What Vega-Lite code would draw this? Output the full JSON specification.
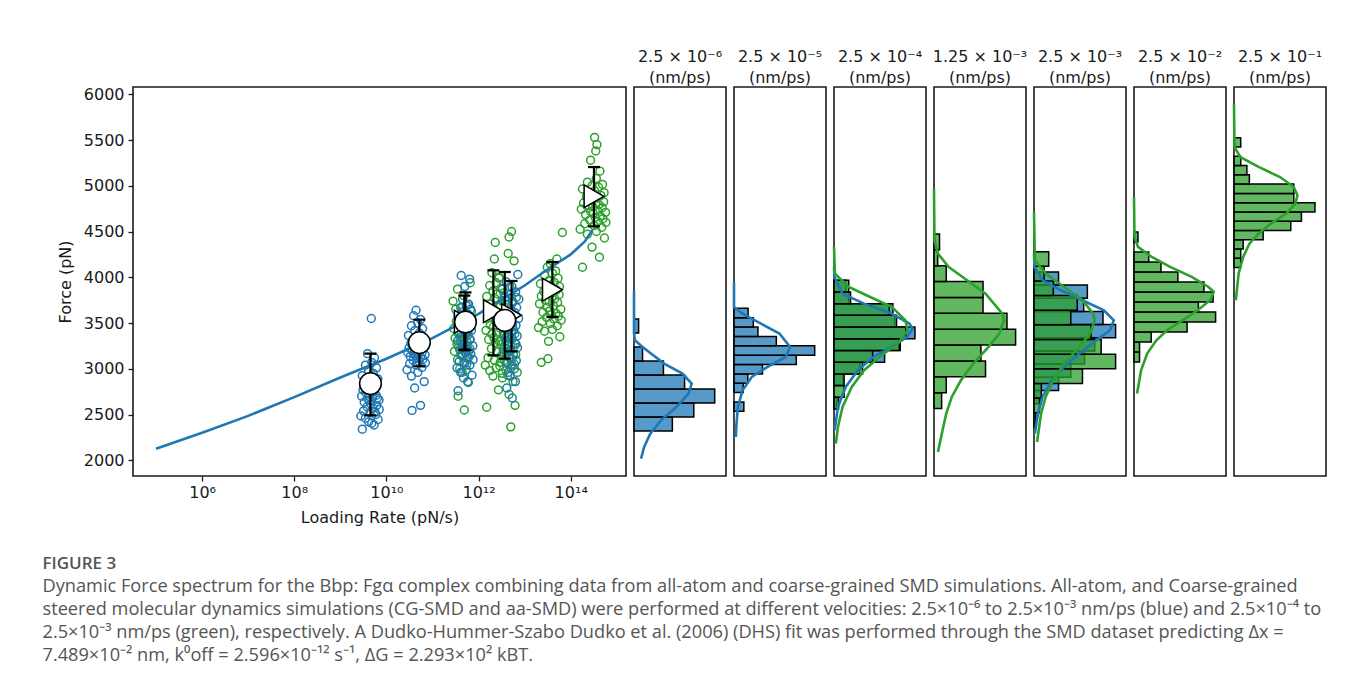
{
"$schema":"https://vega.github.io/schema/vega-lite/v6.json",
"padding":{"left":42,"top":48,"right":10,"bottom":10},
"background":"white",
"bounds":"flush",
"spacing":8,
"title":{"text":"FIGURE 3","subtitle":["Dynamic Force spectrum for the Bbp: Fgα complex combining data from all-atom and coarse-grained SMD simulations. All-atom, and Coarse-grained","steered molecular dynamics simulations (CG-SMD and aa-SMD) were performed at different velocities: 2.5×10⁻⁶ to 2.5×10⁻³ nm/ps (blue) and 2.5×10⁻⁴ to","2.5×10⁻³ nm/ps (green), respectively. A Dudko-Hummer-Szabo Dudko et al. (2006) (DHS) fit was performed through the SMD dataset predicting Δx =","7.489×10⁻² nm, k⁰off = 2.596×10⁻¹² s⁻¹, ΔG = 2.293×10² kBT."],"orient":"bottom","anchor":"start","frame":"bounds","offset":30,"dx":-14,"baseline":"top","font":"Open Sans","fontSize":17,"fontWeight":600,"color":"#555555","subtitleFont":"Open Sans","subtitleFontSize":18.2,"subtitleColor":"#555555","subtitleLineHeight":23,"subtitlePadding":5},
"datasets":{
"pts":[
{"s":"AA","r":4.9e11,"f":2550},{"s":"AA","r":3.6e11,"f":2700},{"s":"AA","r":5.8e11,"f":2860},{"s":"AA","r":4.4e11,"f":2960},{"s":"AA","r":3.9e11,"f":3000},{"s":"AA","r":5.5e11,"f":3040},{"s":"AA","r":4.8e11,"f":3080},{"s":"AA","r":3.5e11,"f":3100},{"s":"AA","r":6.1e11,"f":3125},{"s":"AA","r":4.1e11,"f":3150},{"s":"AA","r":5.2e11,"f":3170},{"s":"AA","r":3.0e11,"f":3190},{"s":"AA","r":4.5e11,"f":3205},{"s":"AA","r":6.5e11,"f":3220},{"s":"AA","r":3.7e11,"f":3240},{"s":"AA","r":5.7e11,"f":3255},{"s":"AA","r":3.4e11,"f":3270},{"s":"AA","r":4.9e11,"f":3290},{"s":"AA","r":4.0e11,"f":3305},{"s":"AA","r":6.4e11,"f":3320},{"s":"AA","r":3.1e11,"f":3335},{"s":"AA","r":4.7e11,"f":3350},{"s":"AA","r":5.3e11,"f":3365},{"s":"AA","r":3.6e11,"f":3385},{"s":"AA","r":4.2e11,"f":3400},{"s":"AA","r":6.0e11,"f":3420},{"s":"AA","r":2.9e11,"f":3440},{"s":"AA","r":5.0e11,"f":3452},{"s":"AA","r":3.9e11,"f":3465},{"s":"AA","r":6.9e11,"f":3480},{"s":"AA","r":4.3e11,"f":3500},{"s":"AA","r":3.3e11,"f":3520},{"s":"AA","r":5.6e11,"f":3540},{"s":"AA","r":4.6e11,"f":3560},{"s":"AA","r":6.2e11,"f":3578},{"s":"AA","r":3.8e11,"f":3590},{"s":"AA","r":5.1e11,"f":3610},{"s":"AA","r":7.0e11,"f":3630},{"s":"AA","r":3.2e11,"f":3650},{"s":"AA","r":4.4e11,"f":3670},{"s":"AA","r":5.9e11,"f":3700},{"s":"AA","r":2.8e11,"f":3740},{"s":"AA","r":4.8e11,"f":3800},{"s":"AA","r":3.5e11,"f":3870},{"s":"AA","r":6.6e11,"f":3940},
{"s":"AA","r":1.5e12,"f":2580},{"s":"AA","r":2.7e12,"f":2770},{"s":"AA","r":2.05e12,"f":2920},{"s":"AA","r":3.3e12,"f":2950},{"s":"AA","r":1.75e12,"f":2980},{"s":"AA","r":2.4e12,"f":3010},{"s":"AA","r":1.4e12,"f":3040},{"s":"AA","r":2.95e12,"f":3070},{"s":"AA","r":2.2e12,"f":3095},{"s":"AA","r":1.6e12,"f":3120},{"s":"AA","r":3.5e12,"f":3150},{"s":"AA","r":2.55e12,"f":3185},{"s":"AA","r":1.9e12,"f":3220},{"s":"AA","r":3.1e12,"f":3265},{"s":"AA","r":2.3e12,"f":3285},{"s":"AA","r":2.8e12,"f":3300},{"s":"AA","r":1.65e12,"f":3320},{"s":"AA","r":2.15e12,"f":3340},{"s":"AA","r":3.45e12,"f":3360},{"s":"AA","r":1.95e12,"f":3380},{"s":"AA","r":2.5e12,"f":3400},{"s":"AA","r":1.45e12,"f":3420},{"s":"AA","r":3.0e12,"f":3440},{"s":"AA","r":2.1e12,"f":3460},{"s":"AA","r":1.8e12,"f":3480},{"s":"AA","r":2.65e12,"f":3500},{"s":"AA","r":2.35e12,"f":3525},{"s":"AA","r":1.55e12,"f":3550},{"s":"AA","r":3.2e12,"f":3575},{"s":"AA","r":2.0e12,"f":3595},{"s":"AA","r":2.45e12,"f":3620},{"s":"AA","r":1.7e12,"f":3650},{"s":"AA","r":2.85e12,"f":3680},{"s":"AA","r":1.85e12,"f":3710},{"s":"AA","r":3.25e12,"f":3740},{"s":"AA","r":2.25e12,"f":3770},{"s":"AA","r":1.5e12,"f":3790},{"s":"AA","r":2.6e12,"f":3820},{"s":"AA","r":2.05e12,"f":3850},{"s":"AA","r":3.05e12,"f":3880},{"s":"AA","r":1.75e12,"f":3910},{"s":"AA","r":2.4e12,"f":3940},{"s":"AA","r":2.75e12,"f":3990},{"s":"AA","r":1.95e12,"f":4050},{"s":"AA","r":2.2e12,"f":4200},{"s":"AA","r":2.3e12,"f":4380},{"s":"AA","r":4.6e12,"f":4440},{"s":"AA","r":5.2e12,"f":4500},
{"s":"AA","r":5.0e12,"f":2365},{"s":"AA","r":6.2e12,"f":2600},{"s":"AA","r":4.6e12,"f":2720},{"s":"AA","r":5.6e12,"f":2860},{"s":"AA","r":3.3e12,"f":2900},{"s":"AA","r":4.3e12,"f":2930},{"s":"AA","r":6.9e12,"f":2960},{"s":"AA","r":3.9e12,"f":2990},{"s":"AA","r":5.0e12,"f":3010},{"s":"AA","r":2.9e12,"f":3030},{"s":"AA","r":6.0e12,"f":3050},{"s":"AA","r":4.2e12,"f":3070},{"s":"AA","r":3.6e12,"f":3090},{"s":"AA","r":5.3e12,"f":3110},{"s":"AA","r":4.7e12,"f":3125},{"s":"AA","r":3.1e12,"f":3140},{"s":"AA","r":6.4e12,"f":3155},{"s":"AA","r":4.0e12,"f":3170},{"s":"AA","r":4.9e12,"f":3190},{"s":"AA","r":3.4e12,"f":3210},{"s":"AA","r":5.7e12,"f":3230},{"s":"AA","r":3.7e12,"f":3250},{"s":"AA","r":6.5e12,"f":3270},{"s":"AA","r":4.5e12,"f":3290},{"s":"AA","r":3.0e12,"f":3310},{"s":"AA","r":5.2e12,"f":3330},{"s":"AA","r":4.1e12,"f":3355},{"s":"AA","r":6.1e12,"f":3380},{"s":"AA","r":3.5e12,"f":3410},{"s":"AA","r":4.8e12,"f":3440},{"s":"AA","r":5.5e12,"f":3470},{"s":"AA","r":3.9e12,"f":3500},{"s":"AA","r":4.4e12,"f":3540},{"s":"AA","r":5.8e12,"f":3580},{"s":"AA","r":3.6e12,"f":3620},{"s":"AA","r":4.9e12,"f":3660},{"s":"AA","r":3.0e12,"f":3690},{"s":"AA","r":5.4e12,"f":3720},{"s":"AA","r":4.1e12,"f":3750},{"s":"AA","r":6.6e12,"f":3780},{"s":"AA","r":3.5e12,"f":3830},{"s":"AA","r":4.8e12,"f":3900},{"s":"AA","r":2.8e12,"f":4000},{"s":"AA","r":5.9e12,"f":4180},{"s":"AA","r":4.4e12,"f":4260},
{"s":"AA","r":2.3e13,"f":3070},{"s":"AA","r":3.2e13,"f":3110},{"s":"AA","r":3.3e13,"f":3300},{"s":"AA","r":5.8e13,"f":3350},{"s":"AA","r":2.7e13,"f":3410},{"s":"AA","r":4.0e13,"f":3430},{"s":"AA","r":2.0e13,"f":3450},{"s":"AA","r":5.1e13,"f":3470},{"s":"AA","r":3.6e13,"f":3495},{"s":"AA","r":2.4e13,"f":3515},{"s":"AA","r":6.2e13,"f":3530},{"s":"AA","r":4.3e13,"f":3545},{"s":"AA","r":3.0e13,"f":3560},{"s":"AA","r":5.4e13,"f":3575},{"s":"AA","r":3.8e13,"f":3590},{"s":"AA","r":4.8e13,"f":3605},{"s":"AA","r":2.5e13,"f":3618},{"s":"AA","r":3.5e13,"f":3630},{"s":"AA","r":6.1e13,"f":3650},{"s":"AA","r":3.1e13,"f":3670},{"s":"AA","r":4.2e13,"f":3690},{"s":"AA","r":2.1e13,"f":3710},{"s":"AA","r":5.2e13,"f":3725},{"s":"AA","r":3.4e13,"f":3735},{"s":"AA","r":2.8e13,"f":3750},{"s":"AA","r":4.5e13,"f":3765},{"s":"AA","r":3.9e13,"f":3780},{"s":"AA","r":2.3e13,"f":3795},{"s":"AA","r":5.6e13,"f":3810},{"s":"AA","r":3.2e13,"f":3825},{"s":"AA","r":4.1e13,"f":3835},{"s":"AA","r":2.6e13,"f":3845},{"s":"AA","r":4.9e13,"f":3860},{"s":"AA","r":2.9e13,"f":3880},{"s":"AA","r":5.7e13,"f":3900},{"s":"AA","r":3.7e13,"f":3915},{"s":"AA","r":2.2e13,"f":3930},{"s":"AA","r":4.4e13,"f":3945},{"s":"AA","r":3.3e13,"f":3960},{"s":"AA","r":5.3e13,"f":3990},{"s":"AA","r":2.7e13,"f":4020},{"s":"AA","r":4.0e13,"f":4045},{"s":"AA","r":4.7e13,"f":4070},{"s":"AA","r":3.1e13,"f":4110},{"s":"AA","r":3.6e13,"f":4150},{"s":"AA","r":5.0e13,"f":4200},{"s":"AA","r":6.6e13,"f":4490},
{"s":"AA","r":1.8e14,"f":4110},{"s":"AA","r":4.2e14,"f":4220},{"s":"AA","r":2.9e14,"f":4330},{"s":"AA","r":5.4e14,"f":4430},{"s":"AA","r":2.3e14,"f":4470},{"s":"AA","r":3.6e14,"f":4500},{"s":"AA","r":1.6e14,"f":4525},{"s":"AA","r":4.7e14,"f":4545},{"s":"AA","r":3.2e14,"f":4565},{"s":"AA","r":2.0e14,"f":4585},{"s":"AA","r":5.8e14,"f":4600},{"s":"AA","r":3.9e14,"f":4610},{"s":"AA","r":2.6e14,"f":4625},{"s":"AA","r":5.0e14,"f":4640},{"s":"AA","r":3.4e14,"f":4655},{"s":"AA","r":4.4e14,"f":4670},{"s":"AA","r":2.1e14,"f":4685},{"s":"AA","r":3.1e14,"f":4700},{"s":"AA","r":5.7e14,"f":4710},{"s":"AA","r":2.7e14,"f":4720},{"s":"AA","r":3.8e14,"f":4730},{"s":"AA","r":1.7e14,"f":4745},{"s":"AA","r":4.8e14,"f":4760},{"s":"AA","r":3.0e14,"f":4770},{"s":"AA","r":2.4e14,"f":4785},{"s":"AA","r":4.1e14,"f":4795},{"s":"AA","r":3.5e14,"f":4805},{"s":"AA","r":1.9e14,"f":4812},{"s":"AA","r":5.2e14,"f":4825},{"s":"AA","r":2.8e14,"f":4845},{"s":"AA","r":3.7e14,"f":4865},{"s":"AA","r":2.2e14,"f":4880},{"s":"AA","r":4.5e14,"f":4895},{"s":"AA","r":2.5e14,"f":4910},{"s":"AA","r":5.3e14,"f":4925},{"s":"AA","r":3.3e14,"f":4945},{"s":"AA","r":1.8e14,"f":4965},{"s":"AA","r":4.0e14,"f":4985},{"s":"AA","r":2.9e14,"f":5000},{"s":"AA","r":4.9e14,"f":5015},{"s":"AA","r":2.3e14,"f":5040},{"s":"AA","r":3.6e14,"f":5080},{"s":"AA","r":4.3e14,"f":5160},{"s":"AA","r":2.7e14,"f":5280},{"s":"AA","r":3.5e14,"f":5380},{"s":"AA","r":3.7e14,"f":5450},{"s":"AA","r":3.3e14,"f":5530},
{"s":"CG","r":3.0e9,"f":2340},{"s":"CG","r":5.4e9,"f":2385},{"s":"CG","r":4.1e9,"f":2420},{"s":"CG","r":6.6e9,"f":2445},{"s":"CG","r":3.5e9,"f":2460},{"s":"CG","r":4.8e9,"f":2405},{"s":"CG","r":2.8e9,"f":2485},{"s":"CG","r":5.9e9,"f":2500},{"s":"CG","r":4.4e9,"f":2520},{"s":"CG","r":3.2e9,"f":2540},{"s":"CG","r":7.0e9,"f":2555},{"s":"CG","r":5.1e9,"f":2570},{"s":"CG","r":3.8e9,"f":2585},{"s":"CG","r":6.2e9,"f":2600},{"s":"CG","r":4.6e9,"f":2615},{"s":"CG","r":5.6e9,"f":2530},{"s":"CG","r":3.3e9,"f":2635},{"s":"CG","r":4.3e9,"f":2650},{"s":"CG","r":6.9e9,"f":2660},{"s":"CG","r":3.9e9,"f":2675},{"s":"CG","r":5.0e9,"f":2690},{"s":"CG","r":2.9e9,"f":2700},{"s":"CG","r":6.0e9,"f":2710},{"s":"CG","r":4.2e9,"f":2725},{"s":"CG","r":3.6e9,"f":2735},{"s":"CG","r":5.3e9,"f":2750},{"s":"CG","r":4.7e9,"f":2760},{"s":"CG","r":3.1e9,"f":2770},{"s":"CG","r":6.4e9,"f":2680},{"s":"CG","r":4.0e9,"f":2790},{"s":"CG","r":4.9e9,"f":2810},{"s":"CG","r":3.4e9,"f":2830},{"s":"CG","r":5.7e9,"f":2850},{"s":"CG","r":3.7e9,"f":2870},{"s":"CG","r":6.5e9,"f":2890},{"s":"CG","r":4.5e9,"f":2910},{"s":"CG","r":3.0e9,"f":2925},{"s":"CG","r":5.2e9,"f":2950},{"s":"CG","r":4.1e9,"f":2980},{"s":"CG","r":6.1e9,"f":3010},{"s":"CG","r":3.5e9,"f":3040},{"s":"CG","r":4.8e9,"f":3070},{"s":"CG","r":5.5e9,"f":3120},{"s":"CG","r":3.9e9,"f":3165},{"s":"CG","r":4.7e9,"f":3550},
{"s":"CG","r":3.6e10,"f":2545},{"s":"CG","r":5.5e10,"f":2600},{"s":"CG","r":4.1e10,"f":2790},{"s":"CG","r":6.6e10,"f":2860},{"s":"CG","r":3.5e10,"f":2920},{"s":"CG","r":4.8e10,"f":2960},{"s":"CG","r":2.8e10,"f":2990},{"s":"CG","r":5.9e10,"f":3015},{"s":"CG","r":4.4e10,"f":3040},{"s":"CG","r":3.2e10,"f":3055},{"s":"CG","r":7.0e10,"f":3065},{"s":"CG","r":5.1e10,"f":3080},{"s":"CG","r":3.8e10,"f":3095},{"s":"CG","r":6.2e10,"f":3105},{"s":"CG","r":4.6e10,"f":3115},{"s":"CG","r":5.6e10,"f":3125},{"s":"CG","r":3.3e10,"f":3135},{"s":"CG","r":4.3e10,"f":3145},{"s":"CG","r":6.9e10,"f":3152},{"s":"CG","r":3.9e10,"f":3160},{"s":"CG","r":5.0e10,"f":3170},{"s":"CG","r":2.9e10,"f":3178},{"s":"CG","r":6.0e10,"f":3185},{"s":"CG","r":4.2e10,"f":3195},{"s":"CG","r":3.6e10,"f":3205},{"s":"CG","r":5.3e10,"f":3212},{"s":"CG","r":4.7e10,"f":3222},{"s":"CG","r":3.1e10,"f":3230},{"s":"CG","r":6.4e10,"f":3240},{"s":"CG","r":4.0e10,"f":3248},{"s":"CG","r":4.9e10,"f":3260},{"s":"CG","r":3.4e10,"f":3280},{"s":"CG","r":5.7e10,"f":3300},{"s":"CG","r":3.7e10,"f":3315},{"s":"CG","r":6.5e10,"f":3330},{"s":"CG","r":4.5e10,"f":3345},{"s":"CG","r":3.0e10,"f":3365},{"s":"CG","r":5.2e10,"f":3390},{"s":"CG","r":4.1e10,"f":3415},{"s":"CG","r":6.1e10,"f":3440},{"s":"CG","r":3.5e10,"f":3470},{"s":"CG","r":4.8e10,"f":3500},{"s":"CG","r":5.5e10,"f":3540},{"s":"CG","r":3.9e10,"f":3580},{"s":"CG","r":4.4e10,"f":3640},
{"s":"CG","r":3.6e11,"f":2760},{"s":"CG","r":6.0e11,"f":2850},{"s":"CG","r":4.7e11,"f":2900},{"s":"CG","r":7.2e11,"f":2930},{"s":"CG","r":4.1e11,"f":2960},{"s":"CG","r":5.4e11,"f":2990},{"s":"CG","r":3.4e11,"f":3010},{"s":"CG","r":6.5e11,"f":3040},{"s":"CG","r":5.0e11,"f":3060},{"s":"CG","r":3.8e11,"f":3080},{"s":"CG","r":7.6e11,"f":3100},{"s":"CG","r":5.7e11,"f":3120},{"s":"CG","r":4.4e11,"f":3140},{"s":"CG","r":6.8e11,"f":3160},{"s":"CG","r":5.2e11,"f":3180},{"s":"CG","r":6.2e11,"f":3195},{"s":"CG","r":3.9e11,"f":3210},{"s":"CG","r":4.9e11,"f":3230},{"s":"CG","r":7.5e11,"f":3250},{"s":"CG","r":4.5e11,"f":3270},{"s":"CG","r":5.6e11,"f":3290},{"s":"CG","r":3.5e11,"f":3305},{"s":"CG","r":6.6e11,"f":3320},{"s":"CG","r":4.8e11,"f":3335},{"s":"CG","r":4.2e11,"f":3350},{"s":"CG","r":5.9e11,"f":3370},{"s":"CG","r":5.3e11,"f":3385},{"s":"CG","r":3.7e11,"f":3400},{"s":"CG","r":7.0e11,"f":3420},{"s":"CG","r":4.6e11,"f":3435},{"s":"CG","r":5.5e11,"f":3450},{"s":"CG","r":4.0e11,"f":3470},{"s":"CG","r":6.3e11,"f":3495},{"s":"CG","r":4.3e11,"f":3520},{"s":"CG","r":7.1e11,"f":3540},{"s":"CG","r":5.1e11,"f":3560},{"s":"CG","r":3.6e11,"f":3580},{"s":"CG","r":5.8e11,"f":3600},{"s":"CG","r":4.7e11,"f":3625},{"s":"CG","r":6.7e11,"f":3650},{"s":"CG","r":4.1e11,"f":3670},{"s":"CG","r":5.4e11,"f":3690},{"s":"CG","r":6.1e11,"f":3705},{"s":"CG","r":4.5e11,"f":3760},{"s":"CG","r":5.0e11,"f":3900},{"s":"CG","r":6.4e11,"f":3980},{"s":"CG","r":4.2e11,"f":4020},
{"s":"CG","r":5.4e12,"f":2680},{"s":"CG","r":4.1e12,"f":2790},{"s":"CG","r":6.3e12,"f":2860},{"s":"CG","r":4.9e12,"f":2920},{"s":"CG","r":4.4e12,"f":2960},{"s":"CG","r":6.0e12,"f":3000},{"s":"CG","r":5.3e12,"f":3040},{"s":"CG","r":4.0e12,"f":3060},{"s":"CG","r":6.6e12,"f":3090},{"s":"CG","r":4.6e12,"f":3120},{"s":"CG","r":5.7e12,"f":3150},{"s":"CG","r":3.5e12,"f":3180},{"s":"CG","r":5.0e12,"f":3205},{"s":"CG","r":7.0e12,"f":3230},{"s":"CG","r":4.2e12,"f":3255},{"s":"CG","r":6.2e12,"f":3280},{"s":"CG","r":3.9e12,"f":3305},{"s":"CG","r":5.4e12,"f":3330},{"s":"CG","r":4.5e12,"f":3345},{"s":"CG","r":6.9e12,"f":3360},{"s":"CG","r":3.6e12,"f":3380},{"s":"CG","r":5.2e12,"f":3400},{"s":"CG","r":5.8e12,"f":3420},{"s":"CG","r":4.1e12,"f":3440},{"s":"CG","r":4.7e12,"f":3460},{"s":"CG","r":6.5e12,"f":3475},{"s":"CG","r":3.4e12,"f":3490},{"s":"CG","r":5.5e12,"f":3510},{"s":"CG","r":4.4e12,"f":3530},{"s":"CG","r":7.4e12,"f":3550},{"s":"CG","r":4.8e12,"f":3570},{"s":"CG","r":3.8e12,"f":3595},{"s":"CG","r":6.1e12,"f":3615},{"s":"CG","r":5.1e12,"f":3640},{"s":"CG","r":6.7e12,"f":3670},{"s":"CG","r":4.3e12,"f":3700},{"s":"CG","r":5.6e12,"f":3730},{"s":"CG","r":7.5e12,"f":3760},{"s":"CG","r":3.7e12,"f":3780},{"s":"CG","r":4.9e12,"f":3810},{"s":"CG","r":6.4e12,"f":3840},{"s":"CG","r":3.3e12,"f":3870},{"s":"CG","r":5.3e12,"f":3900},{"s":"CG","r":4.0e12,"f":3950},{"s":"CG","r":7.1e12,"f":4030}
],
"fit":[{"r":1e5,"f":2125},{"r":1e6,"f":2300},{"r":1e7,"f":2485},{"r":1e8,"f":2690},{"r":1e9,"f":2905},{"r":1e10,"f":3110},{"r":1e11,"f":3335},{"r":1e12,"f":3600},{"r":1e13,"f":3910},{"r":3e13,"f":4080},{"r":1e14,"f":4250},{"r":2e14,"f":4390},{"r":2.95e14,"f":4515}],
"mn":[
{"s":"AA","r":4.9e11,"f":3515,"lo":3210,"hi":3800},
{"s":"AA","r":2.1e12,"f":3630,"lo":3147,"hi":4076},
{"s":"AA","r":5.2e12,"f":3585,"lo":3190,"hi":3960},
{"s":"AA","r":4.0e13,"f":3865,"lo":3566,"hi":4167},
{"s":"AA","r":3.2e14,"f":4885,"lo":4557,"hi":5205},
{"s":"CG","r":4.5e9,"f":2838,"lo":2491,"hi":3166},
{"s":"CG","r":5.2e10,"f":3286,"lo":3027,"hi":3537},
{"s":"CG","r":5.2e11,"f":3511,"lo":3202,"hi":3835},
{"s":"CG","r":3.7e12,"f":3530,"lo":3111,"hi":4058}
],
"hist":[
{"p":1,"s":"CG","lo":2320,"hi":2473,"n":41.7},{"p":1,"s":"CG","lo":2473,"hi":2626,"n":65},{"p":1,"s":"CG","lo":2626,"hi":2779,"n":87.7},{"p":1,"s":"CG","lo":2779,"hi":2932,"n":55},{"p":1,"s":"CG","lo":2932,"hi":3085,"n":32},{"p":1,"s":"CG","lo":3085,"hi":3238,"n":9.3},{"p":1,"s":"CG","lo":3391,"hi":3544,"n":5},
{"p":2,"s":"CG","lo":2535,"hi":2637,"n":10.7},{"p":2,"s":"CG","lo":2740,"hi":2842,"n":10},{"p":2,"s":"CG","lo":2842,"hi":2944,"n":15},{"p":2,"s":"CG","lo":2944,"hi":3047,"n":31},{"p":2,"s":"CG","lo":3047,"hi":3149,"n":67.7},{"p":2,"s":"CG","lo":3149,"hi":3251,"n":87.7},{"p":2,"s":"CG","lo":3251,"hi":3354,"n":46},{"p":2,"s":"CG","lo":3354,"hi":3456,"n":26},{"p":2,"s":"CG","lo":3456,"hi":3558,"n":21},{"p":2,"s":"CG","lo":3558,"hi":3661,"n":15.3},
{"p":3,"s":"CG","lo":2560,"hi":2688,"n":3},{"p":3,"s":"CG","lo":2816,"hi":2944,"n":10},{"p":3,"s":"CG","lo":2944,"hi":3072,"n":28},{"p":3,"s":"CG","lo":3072,"hi":3200,"n":55},{"p":3,"s":"CG","lo":3200,"hi":3328,"n":72},{"p":3,"s":"CG","lo":3328,"hi":3456,"n":88},{"p":3,"s":"CG","lo":3456,"hi":3584,"n":66},{"p":3,"s":"CG","lo":3584,"hi":3712,"n":64},{"p":3,"s":"CG","lo":3712,"hi":3840,"n":16},{"p":3,"s":"CG","lo":3840,"hi":3968,"n":13},
{"p":3,"s":"AA","lo":2560,"hi":2688,"n":5},{"p":3,"s":"AA","lo":2688,"hi":2816,"n":11},{"p":3,"s":"AA","lo":2816,"hi":2944,"n":11},{"p":3,"s":"AA","lo":2944,"hi":3072,"n":31},{"p":3,"s":"AA","lo":3072,"hi":3200,"n":42},{"p":3,"s":"AA","lo":3200,"hi":3328,"n":71},{"p":3,"s":"AA","lo":3328,"hi":3456,"n":78},{"p":3,"s":"AA","lo":3456,"hi":3584,"n":68},{"p":3,"s":"AA","lo":3584,"hi":3712,"n":60},{"p":3,"s":"AA","lo":3712,"hi":3840,"n":18},{"p":3,"s":"AA","lo":3840,"hi":3968,"n":16},
{"p":4,"s":"AA","lo":2565,"hi":2738,"n":8.3},{"p":4,"s":"AA","lo":2738,"hi":2912,"n":13.3},{"p":4,"s":"AA","lo":2912,"hi":3085,"n":56},{"p":4,"s":"AA","lo":3085,"hi":3259,"n":51},{"p":4,"s":"AA","lo":3259,"hi":3432,"n":88.7},{"p":4,"s":"AA","lo":3432,"hi":3606,"n":79.3},{"p":4,"s":"AA","lo":3606,"hi":3779,"n":53.3},{"p":4,"s":"AA","lo":3779,"hi":3953,"n":53.3},{"p":4,"s":"AA","lo":3953,"hi":4126,"n":13.3},{"p":4,"s":"AA","lo":4126,"hi":4300,"n":4},{"p":4,"s":"AA","lo":4300,"hi":4473,"n":6},
{"p":5,"s":"CG","lo":2619,"hi":2763,"n":8},{"p":5,"s":"CG","lo":2763,"hi":2907,"n":26.7},{"p":5,"s":"CG","lo":2907,"hi":3051,"n":40},{"p":5,"s":"CG","lo":3051,"hi":3195,"n":55},{"p":5,"s":"CG","lo":3195,"hi":3339,"n":66},{"p":5,"s":"CG","lo":3339,"hi":3483,"n":88.7},{"p":5,"s":"CG","lo":3483,"hi":3627,"n":75},{"p":5,"s":"CG","lo":3627,"hi":3771,"n":54},{"p":5,"s":"CG","lo":3771,"hi":3915,"n":58},{"p":5,"s":"CG","lo":3915,"hi":4059,"n":26.7},
{"p":5,"s":"AA","lo":2360,"hi":2520,"n":2},{"p":5,"s":"AA","lo":2520,"hi":2680,"n":6},{"p":5,"s":"AA","lo":2680,"hi":2840,"n":8},{"p":5,"s":"AA","lo":2840,"hi":3000,"n":52.7},{"p":5,"s":"AA","lo":3000,"hi":3160,"n":88.7},{"p":5,"s":"AA","lo":3160,"hi":3320,"n":73},{"p":5,"s":"AA","lo":3320,"hi":3480,"n":62},{"p":5,"s":"AA","lo":3480,"hi":3640,"n":40},{"p":5,"s":"AA","lo":3640,"hi":3800,"n":47},{"p":5,"s":"AA","lo":3800,"hi":3960,"n":21},{"p":5,"s":"AA","lo":3960,"hi":4120,"n":11},{"p":5,"s":"AA","lo":4120,"hi":4280,"n":16},
{"p":6,"s":"AA","lo":3075,"hi":3184,"n":6},{"p":6,"s":"AA","lo":3184,"hi":3294,"n":6},{"p":6,"s":"AA","lo":3294,"hi":3403,"n":18.7},{"p":6,"s":"AA","lo":3403,"hi":3512,"n":57.7},{"p":6,"s":"AA","lo":3512,"hi":3621,"n":88.7},{"p":6,"s":"AA","lo":3621,"hi":3730,"n":70},{"p":6,"s":"AA","lo":3730,"hi":3840,"n":86},{"p":6,"s":"AA","lo":3840,"hi":3949,"n":76},{"p":6,"s":"AA","lo":3949,"hi":4058,"n":47.7},{"p":6,"s":"AA","lo":4058,"hi":4167,"n":29.3},{"p":6,"s":"AA","lo":4167,"hi":4276,"n":16},{"p":6,"s":"AA","lo":4386,"hi":4495,"n":4.3},
{"p":7,"s":"AA","lo":4106,"hi":4207,"n":7.3},{"p":7,"s":"AA","lo":4207,"hi":4309,"n":7.3},{"p":7,"s":"AA","lo":4309,"hi":4410,"n":10},{"p":7,"s":"AA","lo":4410,"hi":4512,"n":31.7},{"p":7,"s":"AA","lo":4512,"hi":4613,"n":61.7},{"p":7,"s":"AA","lo":4613,"hi":4715,"n":73.3},{"p":7,"s":"AA","lo":4715,"hi":4816,"n":88},{"p":7,"s":"AA","lo":4816,"hi":4917,"n":65},{"p":7,"s":"AA","lo":4917,"hi":5019,"n":65},{"p":7,"s":"AA","lo":5019,"hi":5120,"n":16.7},{"p":7,"s":"AA","lo":5120,"hi":5222,"n":14},{"p":7,"s":"AA","lo":5222,"hi":5323,"n":7.3},{"p":7,"s":"AA","lo":5424,"hi":5526,"n":7.3}
],
"cv":[
{"p":1,"s":"CG","f":3850,"n":0},{"p":1,"s":"CG","f":3388,"n":0},{"p":1,"s":"CG","f":3311,"n":1},{"p":1,"s":"CG","f":3238,"n":9.3},{"p":1,"s":"CG","f":3057,"n":32.7},{"p":1,"s":"CG","f":2947,"n":52.7},{"p":1,"s":"CG","f":2838,"n":62.7},{"p":1,"s":"CG","f":2729,"n":59.3},{"p":1,"s":"CG","f":2582,"n":46},{"p":1,"s":"CG","f":2437,"n":29.3},{"p":1,"s":"CG","f":2291,"n":17.7},{"p":1,"s":"CG","f":2145,"n":11},{"p":1,"s":"CG","f":2018,"n":7.7},
{"p":2,"s":"CG","f":3949,"n":0},{"p":2,"s":"CG","f":3675,"n":0},{"p":2,"s":"CG","f":3603,"n":9.3},{"p":2,"s":"CG","f":3494,"n":29.3},{"p":2,"s":"CG","f":3385,"n":49.3},{"p":2,"s":"CG","f":3238,"n":61},{"p":2,"s":"CG","f":3129,"n":56},{"p":2,"s":"CG","f":3019,"n":36},{"p":2,"s":"CG","f":2910,"n":19.3},{"p":2,"s":"CG","f":2765,"n":9.3},{"p":2,"s":"CG","f":2582,"n":4.3},{"p":2,"s":"CG","f":2400,"n":2.7},{"p":2,"s":"CG","f":2254,"n":2},
{"p":3,"s":"CG","f":4113,"n":0},{"p":3,"s":"CG","f":4004,"n":0.5},{"p":3,"s":"CG","f":3821,"n":9.3},{"p":3,"s":"CG","f":3712,"n":32.7},{"p":3,"s":"CG","f":3603,"n":62.7},{"p":3,"s":"CG","f":3494,"n":82},{"p":3,"s":"CG","f":3439,"n":85.3},{"p":3,"s":"CG","f":3348,"n":79.3},{"p":3,"s":"CG","f":3239,"n":62.7},{"p":3,"s":"CG","f":3129,"n":42.7},{"p":3,"s":"CG","f":2984,"n":26},{"p":3,"s":"CG","f":2801,"n":12.7},{"p":3,"s":"CG","f":2583,"n":4.3},{"p":3,"s":"CG","f":2328,"n":0.7},
{"p":3,"s":"AA","f":4332,"n":0},{"p":3,"s":"AA","f":4040,"n":1},{"p":3,"s":"AA","f":3894,"n":16},{"p":3,"s":"AA","f":3785,"n":39.3},{"p":3,"s":"AA","f":3676,"n":62.7},{"p":3,"s":"AA","f":3530,"n":77.7},{"p":3,"s":"AA","f":3421,"n":80},{"p":3,"s":"AA","f":3275,"n":69.3},{"p":3,"s":"AA","f":3129,"n":49.3},{"p":3,"s":"AA","f":2984,"n":32.7},{"p":3,"s":"AA","f":2801,"n":19.3},{"p":3,"s":"AA","f":2583,"n":9.3},{"p":3,"s":"AA","f":2364,"n":4.3},{"p":3,"s":"AA","f":2182,"n":2},
{"p":4,"s":"AA","f":4969,"n":0},{"p":4,"s":"AA","f":4404,"n":0.5},{"p":4,"s":"AA","f":4259,"n":4.3},{"p":4,"s":"AA","f":4113,"n":16},{"p":4,"s":"AA","f":3967,"n":36},{"p":4,"s":"AA","f":3821,"n":56},{"p":4,"s":"AA","f":3603,"n":74.3},{"p":4,"s":"AA","f":3530,"n":76},{"p":4,"s":"AA","f":3384,"n":71},{"p":4,"s":"AA","f":3239,"n":59.3},{"p":4,"s":"AA","f":3056,"n":42.7},{"p":4,"s":"AA","f":2874,"n":29.3},{"p":4,"s":"AA","f":2692,"n":19.3},{"p":4,"s":"AA","f":2510,"n":13.3},{"p":4,"s":"AA","f":2328,"n":9.3},{"p":4,"s":"AA","f":2091,"n":4.3},
{"p":5,"s":"CG","f":4259,"n":0},{"p":5,"s":"CG","f":4113,"n":0.5},{"p":5,"s":"CG","f":3967,"n":9.3},{"p":5,"s":"CG","f":3858,"n":29.3},{"p":5,"s":"CG","f":3749,"n":52.7},{"p":5,"s":"CG","f":3639,"n":76},{"p":5,"s":"CG","f":3530,"n":86.7},{"p":5,"s":"CG","f":3421,"n":82.7},{"p":5,"s":"CG","f":3311,"n":67.7},{"p":5,"s":"CG","f":3166,"n":49.3},{"p":5,"s":"CG","f":3020,"n":32.7},{"p":5,"s":"CG","f":2874,"n":19.3},{"p":5,"s":"CG","f":2692,"n":9.3},{"p":5,"s":"CG","f":2510,"n":4.3},{"p":5,"s":"CG","f":2291,"n":1},
{"p":5,"s":"AA","f":4714,"n":0},{"p":5,"s":"AA","f":4186,"n":1},{"p":5,"s":"AA","f":4040,"n":12.7},{"p":5,"s":"AA","f":3894,"n":32.7},{"p":5,"s":"AA","f":3749,"n":52.7},{"p":5,"s":"AA","f":3603,"n":64.3},{"p":5,"s":"AA","f":3530,"n":66},{"p":5,"s":"AA","f":3384,"n":61},{"p":5,"s":"AA","f":3239,"n":49.3},{"p":5,"s":"AA","f":3056,"n":32.7},{"p":5,"s":"AA","f":2874,"n":21},{"p":5,"s":"AA","f":2692,"n":12.7},{"p":5,"s":"AA","f":2510,"n":7.7},{"p":5,"s":"AA","f":2200,"n":3.3},
{"p":6,"s":"AA","f":4878,"n":0},{"p":6,"s":"AA","f":4441,"n":0.5},{"p":6,"s":"AA","f":4332,"n":4.3},{"p":6,"s":"AA","f":4222,"n":19.3},{"p":6,"s":"AA","f":4113,"n":39.3},{"p":6,"s":"AA","f":4004,"n":62.7},{"p":6,"s":"AA","f":3894,"n":81},{"p":6,"s":"AA","f":3840,"n":86.7},{"p":6,"s":"AA","f":3749,"n":82.7},{"p":6,"s":"AA","f":3639,"n":69.3},{"p":6,"s":"AA","f":3530,"n":52.7},{"p":6,"s":"AA","f":3421,"n":36},{"p":6,"s":"AA","f":3311,"n":24.3},{"p":6,"s":"AA","f":3166,"n":14.3},{"p":6,"s":"AA","f":2984,"n":7.7},{"p":6,"s":"AA","f":2729,"n":3.3},
{"p":7,"s":"AA","f":5898,"n":0},{"p":7,"s":"AA","f":5424,"n":0.5},{"p":7,"s":"AA","f":5315,"n":6.7},{"p":7,"s":"AA","f":5206,"n":26.7},{"p":7,"s":"AA","f":5096,"n":50},{"p":7,"s":"AA","f":4987,"n":65},{"p":7,"s":"AA","f":4896,"n":69},{"p":7,"s":"AA","f":4805,"n":66.7},{"p":7,"s":"AA","f":4696,"n":56.7},{"p":7,"s":"AA","f":4587,"n":40},{"p":7,"s":"AA","f":4477,"n":26.7},{"p":7,"s":"AA","f":4368,"n":16.7},{"p":7,"s":"AA","f":4222,"n":10},{"p":7,"s":"AA","f":4040,"n":5},{"p":7,"s":"AA","f":3749,"n":2}
]
},
"hconcat":[
{"width":493,"height":389,
 "layer":[
  {"data":{"name":"pts"},"mark":{"type":"point","shape":"circle","filled":false,"size":62,"strokeWidth":1.5,"opacity":1},
   "encoding":{
    "x":{"field":"r","type":"quantitative","title":"Loading Rate (pN/s)","scale":{"type":"log","domain":[31623,1.585e15],"nice":false},"axis":{"values":[1e6,1e8,1e10,1e12,1e14],"labelExpr":"datum.value < 1e7 ? '10⁶' : datum.value < 1e9 ? '10⁸' : datum.value < 1e11 ? '10¹⁰' : datum.value < 1e13 ? '10¹²' : '10¹⁴'","labelPadding":3,"titlePadding":9,"labelOverlap":false,"labelFlush":false}},
    "y":{"field":"f","type":"quantitative","title":"Force (pN)","scale":{"domain":[1828,6080],"nice":false,"zero":false},"axis":{"values":[2000,2500,3000,3500,4000,4500,5000,5500,6000],"format":"d","labelPadding":4,"titlePadding":10,"labelOverlap":false,"labelFlush":false}},
    "color":{"field":"s","type":"nominal","scale":{"domain":["CG","AA"],"range":["#1f77b4","#2ca02c"]},"legend":null}}},
  {"data":{"name":"fit"},"mark":{"type":"line","color":"#1f77b4","strokeWidth":2.6},
   "encoding":{"x":{"field":"r","type":"quantitative","title":"Loading Rate (pN/s)"},"y":{"field":"f","type":"quantitative","title":"Force (pN)"}}},
  {"data":{"name":"mn"},"mark":{"type":"rule","color":"black","strokeWidth":2.2},
   "encoding":{"x":{"field":"r","type":"quantitative","title":"Loading Rate (pN/s)"},"y":{"field":"lo","type":"quantitative","title":"Force (pN)"},"y2":{"field":"hi"}}},
  {"data":{"name":"mn"},"mark":{"type":"tick","orient":"horizontal","color":"black","size":12,"thickness":2.2,"opacity":1},
   "encoding":{"x":{"field":"r","type":"quantitative","title":"Loading Rate (pN/s)"},"y":{"field":"lo","type":"quantitative","title":"Force (pN)"}}},
  {"data":{"name":"mn"},"mark":{"type":"tick","orient":"horizontal","color":"black","size":12,"thickness":2.2,"opacity":1},
   "encoding":{"x":{"field":"r","type":"quantitative","title":"Loading Rate (pN/s)"},"y":{"field":"hi","type":"quantitative","title":"Force (pN)"}}},
  {"data":{"name":"mn"},"transform":[{"filter":"datum.s=='AA'"}],"mark":{"type":"point","shape":"triangle-right","filled":true,"fill":"white","stroke":"black","strokeWidth":1.5,"size":520,"opacity":1},
   "encoding":{"x":{"field":"r","type":"quantitative","title":"Loading Rate (pN/s)"},"y":{"field":"f","type":"quantitative","title":"Force (pN)"}}},
  {"data":{"name":"mn"},"transform":[{"filter":"datum.s=='CG'"}],"mark":{"type":"point","shape":"circle","filled":true,"fill":"white","stroke":"black","strokeWidth":1.5,"size":470,"opacity":1},
   "encoding":{"x":{"field":"r","type":"quantitative","title":"Loading Rate (pN/s)"},"y":{"field":"f","type":"quantitative","title":"Force (pN)"}}}
 ]},
{"width":92,"height":389,"title":{"text":["2.5 × 10⁻⁶","(nm/ps)"]},
 "layer":[
  {"data":{"name":"hist"},"transform":[{"filter":"datum.p==1"}],"mark":{"type":"rect","fillOpacity":0.75,"stroke":"black","strokeWidth":1.5},
   "encoding":{"x":{"field":"n","type":"quantitative","scale":{"domain":[0,92]},"axis":null},"x2":{"datum":0},"y":{"field":"lo","type":"quantitative","scale":{"domain":[1828,6080],"nice":false,"zero":false},"axis":null},"y2":{"field":"hi"},"color":{"field":"s","type":"nominal","scale":{"domain":["CG","AA"],"range":["#1f77b4","#2ca02c"]},"legend":null}}},
  {"data":{"name":"cv"},"transform":[{"filter":"datum.p==1"}],"mark":{"type":"line","strokeWidth":2.6},
   "encoding":{"x":{"field":"n","type":"quantitative","axis":null},"y":{"field":"f","type":"quantitative","axis":null},"order":{"field":"f","type":"quantitative"},"color":{"field":"s","type":"nominal","legend":null}}}
 ]},
{"width":92,"height":389,"title":{"text":["2.5 × 10⁻⁵","(nm/ps)"]},
 "layer":[
  {"data":{"name":"hist"},"transform":[{"filter":"datum.p==2"}],"mark":{"type":"rect","fillOpacity":0.75,"stroke":"black","strokeWidth":1.5},
   "encoding":{"x":{"field":"n","type":"quantitative","scale":{"domain":[0,92]},"axis":null},"x2":{"datum":0},"y":{"field":"lo","type":"quantitative","scale":{"domain":[1828,6080],"nice":false,"zero":false},"axis":null},"y2":{"field":"hi"},"color":{"field":"s","type":"nominal","scale":{"domain":["CG","AA"],"range":["#1f77b4","#2ca02c"]},"legend":null}}},
  {"data":{"name":"cv"},"transform":[{"filter":"datum.p==2"}],"mark":{"type":"line","strokeWidth":2.6},
   "encoding":{"x":{"field":"n","type":"quantitative","axis":null},"y":{"field":"f","type":"quantitative","axis":null},"order":{"field":"f","type":"quantitative"},"color":{"field":"s","type":"nominal","legend":null}}}
 ]},
{"width":92,"height":389,"title":{"text":["2.5 × 10⁻⁴","(nm/ps)"]},
 "layer":[
  {"data":{"name":"hist"},"transform":[{"filter":"datum.p==3"}],"mark":{"type":"rect","fillOpacity":0.75,"stroke":"black","strokeWidth":1.5},
   "encoding":{"x":{"field":"n","type":"quantitative","scale":{"domain":[0,92]},"axis":null},"x2":{"datum":0},"y":{"field":"lo","type":"quantitative","scale":{"domain":[1828,6080],"nice":false,"zero":false},"axis":null},"y2":{"field":"hi"},"color":{"field":"s","type":"nominal","scale":{"domain":["CG","AA"],"range":["#1f77b4","#2ca02c"]},"legend":null}}},
  {"data":{"name":"cv"},"transform":[{"filter":"datum.p==3"}],"mark":{"type":"line","strokeWidth":2.6},
   "encoding":{"x":{"field":"n","type":"quantitative","axis":null},"y":{"field":"f","type":"quantitative","axis":null},"order":{"field":"f","type":"quantitative"},"color":{"field":"s","type":"nominal","legend":null}}}
 ]},
{"width":92,"height":389,"title":{"text":["1.25 × 10⁻³","(nm/ps)"]},
 "layer":[
  {"data":{"name":"hist"},"transform":[{"filter":"datum.p==4"}],"mark":{"type":"rect","fillOpacity":0.75,"stroke":"black","strokeWidth":1.5},
   "encoding":{"x":{"field":"n","type":"quantitative","scale":{"domain":[0,92]},"axis":null},"x2":{"datum":0},"y":{"field":"lo","type":"quantitative","scale":{"domain":[1828,6080],"nice":false,"zero":false},"axis":null},"y2":{"field":"hi"},"color":{"field":"s","type":"nominal","scale":{"domain":["CG","AA"],"range":["#1f77b4","#2ca02c"]},"legend":null}}},
  {"data":{"name":"cv"},"transform":[{"filter":"datum.p==4"}],"mark":{"type":"line","strokeWidth":2.6},
   "encoding":{"x":{"field":"n","type":"quantitative","axis":null},"y":{"field":"f","type":"quantitative","axis":null},"order":{"field":"f","type":"quantitative"},"color":{"field":"s","type":"nominal","legend":null}}}
 ]},
{"width":92,"height":389,"title":{"text":["2.5 × 10⁻³","(nm/ps)"]},
 "layer":[
  {"data":{"name":"hist"},"transform":[{"filter":"datum.p==5"}],"mark":{"type":"rect","fillOpacity":0.75,"stroke":"black","strokeWidth":1.5},
   "encoding":{"x":{"field":"n","type":"quantitative","scale":{"domain":[0,92]},"axis":null},"x2":{"datum":0},"y":{"field":"lo","type":"quantitative","scale":{"domain":[1828,6080],"nice":false,"zero":false},"axis":null},"y2":{"field":"hi"},"color":{"field":"s","type":"nominal","scale":{"domain":["CG","AA"],"range":["#1f77b4","#2ca02c"]},"legend":null}}},
  {"data":{"name":"cv"},"transform":[{"filter":"datum.p==5"}],"mark":{"type":"line","strokeWidth":2.6},
   "encoding":{"x":{"field":"n","type":"quantitative","axis":null},"y":{"field":"f","type":"quantitative","axis":null},"order":{"field":"f","type":"quantitative"},"color":{"field":"s","type":"nominal","legend":null}}}
 ]},
{"width":92,"height":389,"title":{"text":["2.5 × 10⁻²","(nm/ps)"]},
 "layer":[
  {"data":{"name":"hist"},"transform":[{"filter":"datum.p==6"}],"mark":{"type":"rect","fillOpacity":0.75,"stroke":"black","strokeWidth":1.5},
   "encoding":{"x":{"field":"n","type":"quantitative","scale":{"domain":[0,92]},"axis":null},"x2":{"datum":0},"y":{"field":"lo","type":"quantitative","scale":{"domain":[1828,6080],"nice":false,"zero":false},"axis":null},"y2":{"field":"hi"},"color":{"field":"s","type":"nominal","scale":{"domain":["CG","AA"],"range":["#1f77b4","#2ca02c"]},"legend":null}}},
  {"data":{"name":"cv"},"transform":[{"filter":"datum.p==6"}],"mark":{"type":"line","strokeWidth":2.6},
   "encoding":{"x":{"field":"n","type":"quantitative","axis":null},"y":{"field":"f","type":"quantitative","axis":null},"order":{"field":"f","type":"quantitative"},"color":{"field":"s","type":"nominal","legend":null}}}
 ]},
{"width":92,"height":389,"title":{"text":["2.5 × 10⁻¹","(nm/ps)"]},
 "layer":[
  {"data":{"name":"hist"},"transform":[{"filter":"datum.p==7"}],"mark":{"type":"rect","fillOpacity":0.75,"stroke":"black","strokeWidth":1.5},
   "encoding":{"x":{"field":"n","type":"quantitative","scale":{"domain":[0,92]},"axis":null},"x2":{"datum":0},"y":{"field":"lo","type":"quantitative","scale":{"domain":[1828,6080],"nice":false,"zero":false},"axis":null},"y2":{"field":"hi"},"color":{"field":"s","type":"nominal","scale":{"domain":["CG","AA"],"range":["#1f77b4","#2ca02c"]},"legend":null}}},
  {"data":{"name":"cv"},"transform":[{"filter":"datum.p==7"}],"mark":{"type":"line","strokeWidth":2.6},
   "encoding":{"x":{"field":"n","type":"quantitative","axis":null},"y":{"field":"f","type":"quantitative","axis":null},"order":{"field":"f","type":"quantitative"},"color":{"field":"s","type":"nominal","legend":null}}}
 ]}
],
"config":{
 "font":"DejaVu Sans",
 "view":{"stroke":"#1a1a1a","strokeWidth":1.6},
 "axis":{"grid":false,"domain":false,"tickColor":"#1a1a1a","tickSize":5,"tickWidth":1.3,"labelFontSize":16,"labelColor":"#1a1a1a","titleFontSize":16,"titleFontWeight":"normal","titleColor":"#1a1a1a","labelFont":"DejaVu Sans","titleFont":"DejaVu Sans"},
 "title":{"fontSize":16,"fontWeight":"normal","color":"#1a1a1a","font":"DejaVu Sans","lineHeight":21,"baseline":"bottom","offset":1}
}
}
